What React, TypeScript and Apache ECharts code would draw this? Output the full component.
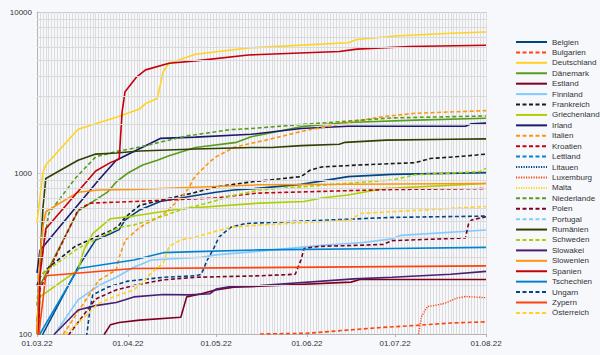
import React, { useEffect, useRef } from 'react';
import * as echarts from 'echarts';

type P = [string, number];

const monthLabels = ['01.03.22', '01.04.22', '01.05.22', '01.06.22', '01.07.22', '01.08.22'];
const yMin = 100;
const yMax = 10000;
const minorGrid = [200, 300, 400, 500, 600, 700, 800, 900, 2000, 3000, 4000, 5000, 6000, 7000, 8000, 9000];

const countries = [
  'Belgien', 'Bulgarien', 'Deutschland', 'Dänemark', 'Estland', 'Finnland', 'Frankreich',
  'Griechenland', 'Irland', 'Italien', 'Kroatien', 'Lettland', 'Litauen', 'Luxemburg', 'Malta',
  'Niederlande', 'Polen', 'Portugal', 'Rumänien', 'Schweden', 'Slowakei', 'Slowenien', 'Spanien',
  'Tschechien', 'Ungarn', 'Zypern', 'Österreich',
];

const colors = [
  '#004586', '#ff420e', '#ffd320', '#579d1c', '#7e0021', '#83caff', '#1a1a1a',
  '#aecf00', '#1c1a6e', '#ff950e', '#c5000b', '#0084d1', '#004586', '#ff420e', '#ffd320',
  '#579d1c', '#7e0021', '#83caff', '#314004', '#aecf00', '#4b1f6f', '#ff950e', '#c5000b',
  '#0084d1', '#004586', '#ff420e', '#ffd320',
];

const styles = [
  'solid', 'dashed', 'solid', 'solid', 'solid', 'solid', 'dashed',
  'solid', 'solid', 'dashed', 'dashed', 'dashed', 'dotted', 'dotted', 'dotted',
  'dashed', 'dashed', 'dashed', 'solid', 'dashed', 'solid', 'solid', 'solid',
  'solid', 'dashed', 'solid', 'dashed',
];

const belgien: P[] = [['02.03', 60], ['03.03', 100], ['15.03', 260], ['21.03', 384], ['26.03', 420], ['29.03', 445], ['31.03', 510], ['05.04', 590], ['12.04', 665], ['23.04', 720], ['01.05', 760], ['07.05', 785], ['14.05', 800], ['30.05', 850], ['15.06', 950], ['30.06', 980], ['01.08', 1005]];
const bulgarien: P[] = [['16.05', 100], ['01.06', 101], ['27.06', 110], ['08.07', 113], ['20.07', 117], ['01.08', 119]];
const deutschland: P[] = [['01.03', 490], ['03.03', 1000], ['04.03', 1120], ['15.03', 1870], ['28.03', 2220], ['05.04', 2500], ['07.04', 2700], ['11.04', 2900], ['13.04', 4260], ['15.04', 4800], ['24.04', 5460], ['12.05', 5980], ['15.06', 6440], ['18.06', 6750], ['01.07', 7090], ['20.07', 7380], ['01.08', 7520]];
const daenemark: P[] = [['01.03', 120], ['02.03', 200], ['15.03', 580], ['25.03', 760], ['28.03', 880], ['01.04', 1000], ['06.04', 1120], ['11.04', 1200], ['15.04', 1280], ['24.04', 1440], ['08.05', 1550], ['13.05', 1680], ['30.05', 1940], ['15.06', 2060], ['08.07', 2130], ['01.08', 2190]];
const estland: P[] = [['23.03', 80], ['24.03', 100], ['26.03', 114], ['29.03', 118], ['05.04', 122], ['19.04', 127], ['21.04', 170], ['26.04', 178], ['01.05', 188], ['07.05', 195], ['13.05', 197], ['16.06', 210], ['19.06', 218], ['01.08', 218]];
const finnland: P[] = [['06.03', 90], ['07.03', 100], ['15.03', 163], ['22.03', 200], ['28.03', 225], ['03.04', 260], ['09.04', 288], ['26.04', 300], ['01.05', 310], ['14.05', 325], ['06.06', 355], ['20.06', 370], ['30.06', 390], ['03.07', 410], ['01.08', 443]];
const frankreich: P[] = [['01.03', 200], ['02.03', 225], ['05.03', 260], ['14.03', 350], ['21.03', 400], ['27.03', 445], ['29.03', 475], ['31.03', 530], ['05.04', 630], ['14.04', 690], ['23.04', 750], ['01.05', 820], ['07.05', 850], ['13.05', 880], ['30.05', 950], ['02.06', 1040], ['06.06', 1090], ['18.06', 1120], ['08.07', 1160], ['13.07', 1230], ['24.07', 1270], ['01.08', 1310]];
const griechenland: P[] = [['01.03', 80], ['02.03', 170], ['15.03', 250], ['17.03', 333], ['20.03', 420], ['26.03', 520], ['03.04', 540], ['19.04', 600], ['16.05', 650], ['31.05', 665], ['06.06', 700], ['15.06', 730], ['27.06', 800], ['01.08', 860]];
const irland: P[] = [['01.03', 240], ['02.03', 330], ['22.03', 905], ['28.03', 1200], ['03.04', 1360], ['12.04', 1640], ['24.04', 1670], ['13.05', 1740], ['30.05', 1890], ['15.06', 1950], ['25.07', 1950], ['27.07', 2020], ['01.08', 2040]];
const italien: P[] = [['07.03', 70], ['10.03', 100], ['22.03', 215], ['28.03', 250], ['29.03', 300], ['31.03', 380], ['05.04', 460], ['13.04', 550], ['19.04', 700], ['22.04', 820], ['23.04', 905], ['25.04', 1000], ['29.04', 1180], ['01.05', 1260], ['07.05', 1440], ['13.05', 1530], ['18.05', 1600], ['30.05', 1810], ['15.06', 2060], ['27.06', 2240], ['08.07', 2350], ['01.08', 2440]];
const kroatien: P[] = [['01.03', 60], ['02.03', 190], ['15.03', 590], ['19.03', 650], ['03.04', 665], ['01.05', 700], ['15.05', 750], ['30.06', 790], ['01.08', 800]];
const lettland: P[] = [];
const litauen: P[] = [];
const luxemburg: P[] = [['09.07', 100], ['10.07', 128], ['12.07', 148], ['15.07', 151], ['18.07', 155], ['22.07', 167], ['25.07', 171], ['01.08', 168]];
const malta: P[] = [];
const niederlande: P[] = [['01.03', 150], ['02.03', 260], ['05.03', 560], ['14.03', 925], ['21.03', 1260], ['28.03', 1360], ['05.04', 1450], ['21.04', 1700], ['24.04', 1730], ['06.05', 1860], ['13.05', 1890], ['30.05', 2000], ['15.06', 2100], ['30.06', 2200], ['01.08', 2260]];
const polen: P[] = [['11.03', 90], ['12.03', 100], ['21.03', 165], ['28.03', 188], ['03.04', 200], ['13.04', 217], ['24.04', 225], ['16.05', 230], ['28.05', 235], ['30.05', 290], ['31.05', 340], ['05.06', 350], ['17.06', 355], ['27.06', 360], ['30.06', 380], ['25.07', 395], ['26.07', 480], ['27.07', 510], ['01.08', 535]];
const portugal: P[] = [];
const rumaenien: P[] = [['01.03', 100], ['02.03', 260], ['03.03', 600], ['04.03', 925], ['15.03', 1200], ['21.03', 1310], ['28.03', 1330], ['05.04', 1370], ['24.04', 1410], ['13.05', 1440], ['20.05', 1440], ['30.05', 1480], ['12.06', 1510], ['14.06', 1550], ['28.06', 1600], ['20.07', 1620], ['01.08', 1630]];
const schweden: P[] = [['01.03', 225], ['15.03', 340], ['29.03', 460], ['03.04', 475], ['13.04', 540], ['19.04', 590], ['30.04', 665], ['06.05', 720], ['16.05', 785], ['30.06', 905], ['08.07', 975], ['30.07', 1020], ['01.08', 1070]];
const slowakei: P[] = [['06.03', 90], ['07.03', 100], ['15.03', 141], ['21.03', 150], ['28.03', 157], ['31.03', 163], ['03.04', 170], ['13.04', 176], ['22.04', 175], ['29.04', 178], ['01.05', 190], ['06.05', 197], ['16.05', 200], ['17.06', 220], ['30.06', 225], ['20.07', 235], ['01.08', 245]];
const slowenien: P[] = [['01.03', 100], ['02.03', 300], ['03.03', 460], ['04.03', 575], ['15.03', 760], ['22.03', 785], ['03.04', 790], ['16.05', 845], ['01.08', 860]];
const spanien: P[] = [['01.03', 40], ['02.03', 230], ['04.03', 450], ['21.03', 1030], ['26.03', 1160], ['29.03', 1220], ['30.03', 2400], ['31.03', 3200], ['04.04', 3960], ['07.04', 4370], ['15.04', 4800], ['24.04', 4970], ['12.05', 5410], ['12.06', 5680], ['18.06', 5880], ['06.07', 6100], ['01.08', 6220]];
const tschechien: P[] = [['01.03', 60], ['02.03', 100], ['15.03', 255], ['03.04', 288], ['13.04', 320], ['24.04', 325], ['16.05', 333], ['30.06', 340], ['01.08', 345]];
const ungarn: P[] = [['17.03', 80], ['18.03', 100], ['19.03', 140], ['20.03', 175], ['25.03', 195], ['01.04', 213], ['13.04', 225], ['24.04', 230], ['26.04', 235], ['28.04', 288], ['30.04', 333], ['02.05', 400], ['06.05', 460], ['11.05', 485], ['16.05', 490], ['30.06', 530], ['01.08', 540]];
const zypern: P[] = [['01.03', 80], ['04.03', 230], ['03.04', 255], ['01.08', 265]];
const oesterreich: P[] = [['10.03', 90], ['11.03', 100], ['22.03', 155], ['27.03', 170], ['03.04', 188], ['07.04', 217], ['09.04', 240], ['13.04', 275], ['15.04', 350], ['19.04', 384], ['24.04', 400], ['30.04', 430], ['06.05', 460], ['16.05', 475], ['16.06', 510], ['19.06', 560], ['30.06', 575], ['01.08', 620]];

const seriesData: P[][] = [
  belgien, bulgarien, deutschland, daenemark, estland, finnland, frankreich,
  griechenland, irland, italien, kroatien, lettland, litauen, luxemburg, malta,
  niederlande, polen, portugal, rumaenien, schweden, slowakei, slowenien, spanien,
  tschechien, ungarn, zypern, oesterreich,
];

const pad = (n: number) => (n < 10 ? '0' + n : '' + n);
const categories: string[] = [];
for (let t = Date.UTC(2022, 2, 1); t <= Date.UTC(2022, 7, 1); t += 86400000) {
  const dt = new Date(t);
  categories.push(pad(dt.getUTCDate()) + '.' + pad(dt.getUTCMonth() + 1) + '.22');
}

const dashFor = (s: string): any => {
  if (s === 'dashed') return [4, 2.5];
  if (s === 'dotted') return [1.2, 1.3];
  return 'solid';
};

const FONT = 'Liberation Sans, Arial, sans-serif';

export default function App() {
  const ref = useRef<HTMLDivElement>(null);
  useEffect(() => {
    if (!ref.current) return;
    const chart = echarts.init(ref.current, undefined, { renderer: 'svg' });
    const isMonth = (_i: number, v: string) => monthLabels.includes(v);
    const series: any[] = [
      {
        name: '_grid',
        type: 'line',
        data: [],
        silent: true,
        z: 1,
        markLine: {
          silent: true,
          symbol: ['none', 'none'],
          label: { show: false },
          animation: false,
          lineStyle: { color: '#dadada', type: 'solid', width: 1 },
          data: minorGrid.map((v) => ({ yAxis: v })),
        },
      },
    ];
    countries.forEach((name, i) => {
      series.push({
        name,
        type: 'line',
        data: seriesData[i].map(([d, v]) => [d + '.22', v]),
        symbol: 'none',
        showSymbol: false,
        clip: true,
        z: 3,
        lineStyle: { color: colors[i], width: styles[i] === 'dotted' ? 1.4 : 1.6, type: dashFor(styles[i]) },
        itemStyle: { color: colors[i] },
        emphasis: { disabled: true },
      });
    });
    chart.setOption({
      animation: false,
      backgroundColor: '#f7f8fc',
      grid: { left: 37, top: 12, width: 449, height: 322, containLabel: false },
      xAxis: {
        type: 'category',
        data: categories,
        boundaryGap: false,
        axisLine: { show: true, lineStyle: { color: '#b4b4b4', width: 1 } },
        axisTick: { show: true, interval: isMonth, length: 3, lineStyle: { color: '#b4b4b4' } },
        axisLabel: { interval: isMonth, color: '#333', fontSize: 8, fontFamily: FONT, margin: 5 },
        splitLine: { show: true, interval: 0, lineStyle: { color: '#dcdcdc', width: 1 } },
      },
      yAxis: {
        type: 'log',
        logBase: 10,
        min: yMin,
        max: yMax,
        axisLine: { show: true, lineStyle: { color: '#b4b4b4', width: 1 } },
        axisTick: { show: false },
        axisLabel: { color: '#333', fontSize: 8, fontFamily: FONT, margin: 5, formatter: (v: number) => String(Math.round(v)) },
        splitLine: { show: true, lineStyle: { color: '#c8c8c8', width: 1 } },
      },
      legend: {
        data: countries,
        orient: 'vertical',
        left: 515,
        top: 38,
        padding: 0,
        itemWidth: 31,
        itemHeight: 8,
        itemGap: 2.42,
        selectedMode: false,
        itemStyle: { opacity: 0, borderWidth: 0 },
        textStyle: { fontSize: 8, lineHeight: 8, color: '#333', fontFamily: FONT },
      },
      series,
    });
    return () => chart.dispose();
  }, []);
  return <div ref={ref} style={{ position: 'fixed', left: 0, top: 0, width: 600, height: 355 }} />;
}
